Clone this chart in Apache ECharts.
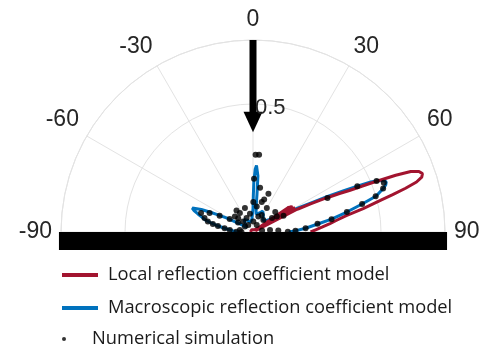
<!DOCTYPE html>
<html><head><meta charset="utf-8">
<script src="https://cdn.jsdelivr.net/npm/echarts@6/dist/echarts.min.js"></script>
<style>html,body{margin:0;padding:0;background:#fff}#c{width:495px;height:354px}</style>
</head><body><div id="c"></div>
<script>
// Angle tick labels (degrees) and radius tick labels
const angleTickLabels = [-90, -60, -30, 0, 30, 60, 90];
const radiusTickLabels = [0.5];
const seriesNames = ['Local reflection coefficient model', 'Macroscopic reflection coefficient model', 'Numerical simulation'];

// Local reflection coefficient model (red): angle (deg) / magnitude
const localAngles = [-90, -60, -30, 0, 30, 45, 50, 53, 54, 55, 55.25, 55.5, 55.75, 56, 56.25, 56.5, 56.75, 57, 57.25, 57.5, 57.75, 58, 58.25, 58.5, 58.75, 59, 59.25, 59.5, 59.75, 60, 60.25, 60.5, 60.75, 61, 61.25, 61.5, 61.75, 62, 62.25, 62.5, 62.75, 63, 64, 65, 66, 66.7, 67.5, 68.3, 69, 70, 71, 72, 73, 74, 75, 76, 78, 80, 82, 84, 86, 88, 90];
const localValues = [0.01, 0.01, 0.01, 0.01, 0.01, 0.015, 0.02, 0.03, 0.05, 0.1, 0.17, 0.01, 0.175, 0.01, 0.18, 0.01, 0.18, 0.01, 0.185, 0.01, 0.185, 0.01, 0.185, 0.01, 0.185, 0.01, 0.185, 0.01, 0.19, 0.01, 0.19, 0.01, 0.19, 0.01, 0.19, 0.01, 0.19, 0.01, 0.19, 0.01, 0.19, 0.2, 0.25, 0.31, 0.37, 0.41, 0.5, 0.6, 0.66, 0.69, 0.70, 0.693, 0.668, 0.62, 0.565, 0.515, 0.44, 0.37, 0.33, 0.30, 0.27, 0.245, 0.225];

// Macroscopic reflection coefficient model (blue)
const macroAngles = [-90, -88, -85, -82.5, -80, -78, -76, -74, -72, -70, -68.5, -67.5, -66.5, -65, -64, -62, -60, -58, -56, -52, -45, -40, -35, -30, -25, -20, -15, -10, -5, -2, 0, 0.5, 1, 2, 3, 4, 5, 6, 7, 10, 15, 20, 25, 30, 35, 40, 45, 50, 55, 58, 60, 62, 63.5, 64.5, 65.5, 66.3, 67, 67.6, 68.5, 69.4, 70.5, 71.5, 72.5, 73.8, 75.6, 78, 80.7, 82.8, 85.9, 88.2, 90];
const macroValues = [0.05, 0.07, 0.09, 0.112, 0.14, 0.165, 0.19, 0.205, 0.225, 0.245, 0.255, 0.25, 0.22, 0.18, 0.155, 0.115, 0.08, 0.06, 0.04, 0.03, 0.04, 0.05, 0.06, 0.06, 0.05, 0.05, 0.04, 0.04, 0.05, 0.07, 0.09, 0.14, 0.2, 0.245, 0.26, 0.255, 0.22, 0.15, 0.1, 0.07, 0.07, 0.08, 0.09, 0.08, 0.07, 0.06, 0.06, 0.07, 0.09, 0.12, 0.15, 0.2, 0.26, 0.32, 0.39, 0.445, 0.5, 0.525, 0.55, 0.556, 0.55, 0.537, 0.52, 0.5, 0.44, 0.375, 0.311, 0.258, 0.206, 0.168, 0.14];

// Numerical simulation (black dots)
const simAngles = [-90, -89, -85, -82.5, -80.2, -78.6, -77, -74, -70, -66.5, -64.1, -61, -57.7, -56, -49.6, -47, -43, -37.4, -34.8, -34, -24.7, -18.6, -9.5, 1.7, 8.3, 19, 27, 28, 30, 40.6, 48, 53.8, 57, 62, 0.6, 16.3, 19, 22, 9.1, 1.1, 1.9, 4.5, 65.4, 66.3, 67.6, 69.4, 71.5, 73.8, 75.6, 78, 80.7, 82.8, 85.9, 88.2, 89.5, -81, 80, 83, 86.6];
const simValues = [0.045, 0.065, 0.091, 0.112, 0.139, 0.16, 0.181, 0.197, 0.216, 0.185, 0.145, 0.104, 0.069, 0.038, 0.093, 0.079, 0.056, 0.106, 0.09, 0.033, 0.06, 0.099, 0.072, 0.041, 0.101, 0.064, 0.075, 0.031, 0.108, 0.062, 0.117, 0.092, 0.111, 0.135, 0.117, 0.122, 0.134, 0.161, 0.175, 0.208, 0.302, 0.303, 0.32, 0.445, 0.522, 0.546, 0.536, 0.499, 0.44, 0.375, 0.311, 0.254, 0.206, 0.166, 0.136, 0.052, 0.036, 0.067, 0.099];

(function () {
const RED = '#A2142F', BLUE = '#0072BD', GRID = '#e3e3e3';
const FONT = "'Liberation Sans', Arial, sans-serif";
const LFONT = "'Open Sans', Lato, sans-serif";

const chart = echarts.init(document.getElementById('c'), null, {renderer: 'canvas'});
const pairs = (a, v) => a.map((ang, i) => [v[i], ang]);

const legendBase = (name, y, icon) => ({
  data: [name], orient: 'vertical', left: 57, top: y, icon: icon,
  itemWidth: 36, itemHeight: 4, selectedMode: false,
  textStyle: {fontFamily: LFONT, fontSize: 18.3, color: '#1a1a1a', padding: [0, 0, 0, 5]}
});

chart.setOption({
  animation: false,
  backgroundColor: '#fff',
  polar: {center: [253, 232], radius: 192},
  angleAxis: {
    type: 'value', min: -90, max: 90, interval: 30,
    startAngle: 180, endAngle: 0, clockwise: true,
    axisLine: {show: true, lineStyle: {color: GRID, width: 1}},
    axisTick: {show: false},
    splitLine: {show: true, lineStyle: {color: GRID, width: 1}},
    axisLabel: {
      show: true, margin: 9, fontSize: 23, fontFamily: FONT, color: '#262626',
      formatter: v => (angleTickLabels.indexOf(v) >= 0 ? String(v) : '')
    }
  },
  radiusAxis: {
    type: 'value', min: 0, max: 0.75, interval: 0.5,
    axisLine: {show: false}, axisTick: {show: false}, axisLabel: {show: false},
    splitLine: {show: true, lineStyle: {color: GRID, width: 1}}
  },
  legend: [
    legendBase(seriesNames[0], 261, 'rect'),
    legendBase(seriesNames[1], 294, 'rect'),
    legendBase(seriesNames[2], 325, 'circle')
  ],
  series: [
    {name: seriesNames[0], type: 'line', coordinateSystem: 'polar', showSymbol: false, symbol: 'none',
     data: pairs(localAngles, localValues), lineStyle: {color: RED, width: 3}, itemStyle: {color: RED}, z: 3},
    {name: seriesNames[1], type: 'line', coordinateSystem: 'polar', showSymbol: false, symbol: 'none',
     data: pairs(macroAngles, macroValues), lineStyle: {color: BLUE, width: 3}, itemStyle: {color: BLUE}, z: 2},
    {name: seriesNames[2], type: 'scatter', coordinateSystem: 'polar', symbol: 'circle', symbolSize: 6,
     data: pairs(simAngles, simValues), itemStyle: {color: '#000'}, z: 4}
  ]
});

const toPx = (r, a) => chart.convertToPixel({seriesIndex: 0}, [r, a]);
const pL = toPx(0.758, -90), pR = toPx(0.758, 90);
const pTop = toPx(0.75, 0), hb = toPx(0.47, 0), tip = toPx(0.39, 0);
const lab = toPx(radiusTickLabels[0], 0);
chart.setOption({
  graphic: [
    {type: 'rect', z: 100, shape: {x: pL[0], y: pL[1], width: pR[0] - pL[0], height: 18}, style: {fill: '#000'}},
    {type: 'rect', z: 100, shape: {x: pTop[0] - 3.5, y: pTop[1], width: 7, height: hb[1] - pTop[1] + 1}, style: {fill: '#000'}},
    {type: 'polygon', z: 100, shape: {points: [[hb[0] - 9.5, hb[1]], [hb[0] + 9.5, hb[1]], [tip[0], tip[1]]]}, style: {fill: '#000'}},
    {type: 'text', z: 100, x: lab[0] + 2, y: lab[1] + 3.5,
     style: {text: String(radiusTickLabels[0]), fontSize: 22, fontFamily: FONT, fill: '#262626', verticalAlign: 'middle', align: 'left'}}
  ]
});
})();
</script>
</body></html>
